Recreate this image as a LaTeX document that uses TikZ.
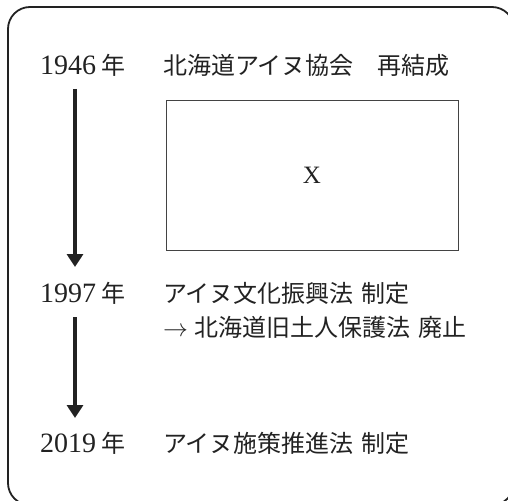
\documentclass[tikz,border=0pt]{standalone}
\usepackage{fontspec}
\setmainfont{Liberation Serif}
\newfontfamily\cjk{Noto Sans CJK JP}
\usetikzlibrary{arrows.meta}
\newcommand\J[1]{{\cjk\fontsize{24}{28}\selectfont #1}}
\definecolor{ink}{HTML}{222222}
\tikzset{
  lbl/.style={anchor=base west, inner sep=0pt, outer sep=0pt, text=ink, font=\fontsize{28}{30}\selectfont},
  flow/.style={line width=4pt, draw=ink, -{Triangle[width=16pt,length=13pt]}, shorten >=0pt},
  frame/.style={line width=1.8pt, draw=ink, rounded corners=22pt},
  xbox/.style={draw=ink!85, line width=0.9pt, minimum width=292pt, minimum height=150pt, inner sep=0pt, font=\fontsize{25}{27}\selectfont, text=ink}
}
\begin{document}
\begin{tikzpicture}[x=1pt,y=-1pt]
\useasboundingbox (0,0) rectangle (508,500);
\clip (0,0) rectangle (508,500);
\draw[frame] (8,7) rectangle (514,505);
% years
\node[lbl] (y1946) at (40,75) {1946\hspace{5pt}\J{年}};
\node[lbl] (y1997) at (40,302) {1997\hspace{5pt}\J{年}};
\node[lbl] (y2019) at (40,452) {2019\hspace{5pt}\J{年}};
% events
\node[lbl] (e1) at (163,75) {\J{北海道アイヌ協会　再結成}};
\node[lbl] (e2) at (163,302) {\J{アイヌ文化振興法\hspace{8pt}制定}};
\node[lbl] (e3) at (163,336) {\J{$\rightarrow$\hspace{7pt}北海道旧土人保護法\hspace{8pt}廃止}};
\node[lbl] (e4) at (163,452) {\J{アイヌ施策推進法\hspace{8pt}制定}};
% box X
\node[xbox] (bx) at (312,175) {X};
% arrows
\coordinate (a1s) at (75,89);
\coordinate (a1e) at (75,267);
\coordinate (a2s) at (75,317);
\coordinate (a2e) at (75,418);
\draw[flow] (a1s) -- (a1e);
\draw[flow] (a2s) -- (a2e);
\end{tikzpicture}
\end{document}
